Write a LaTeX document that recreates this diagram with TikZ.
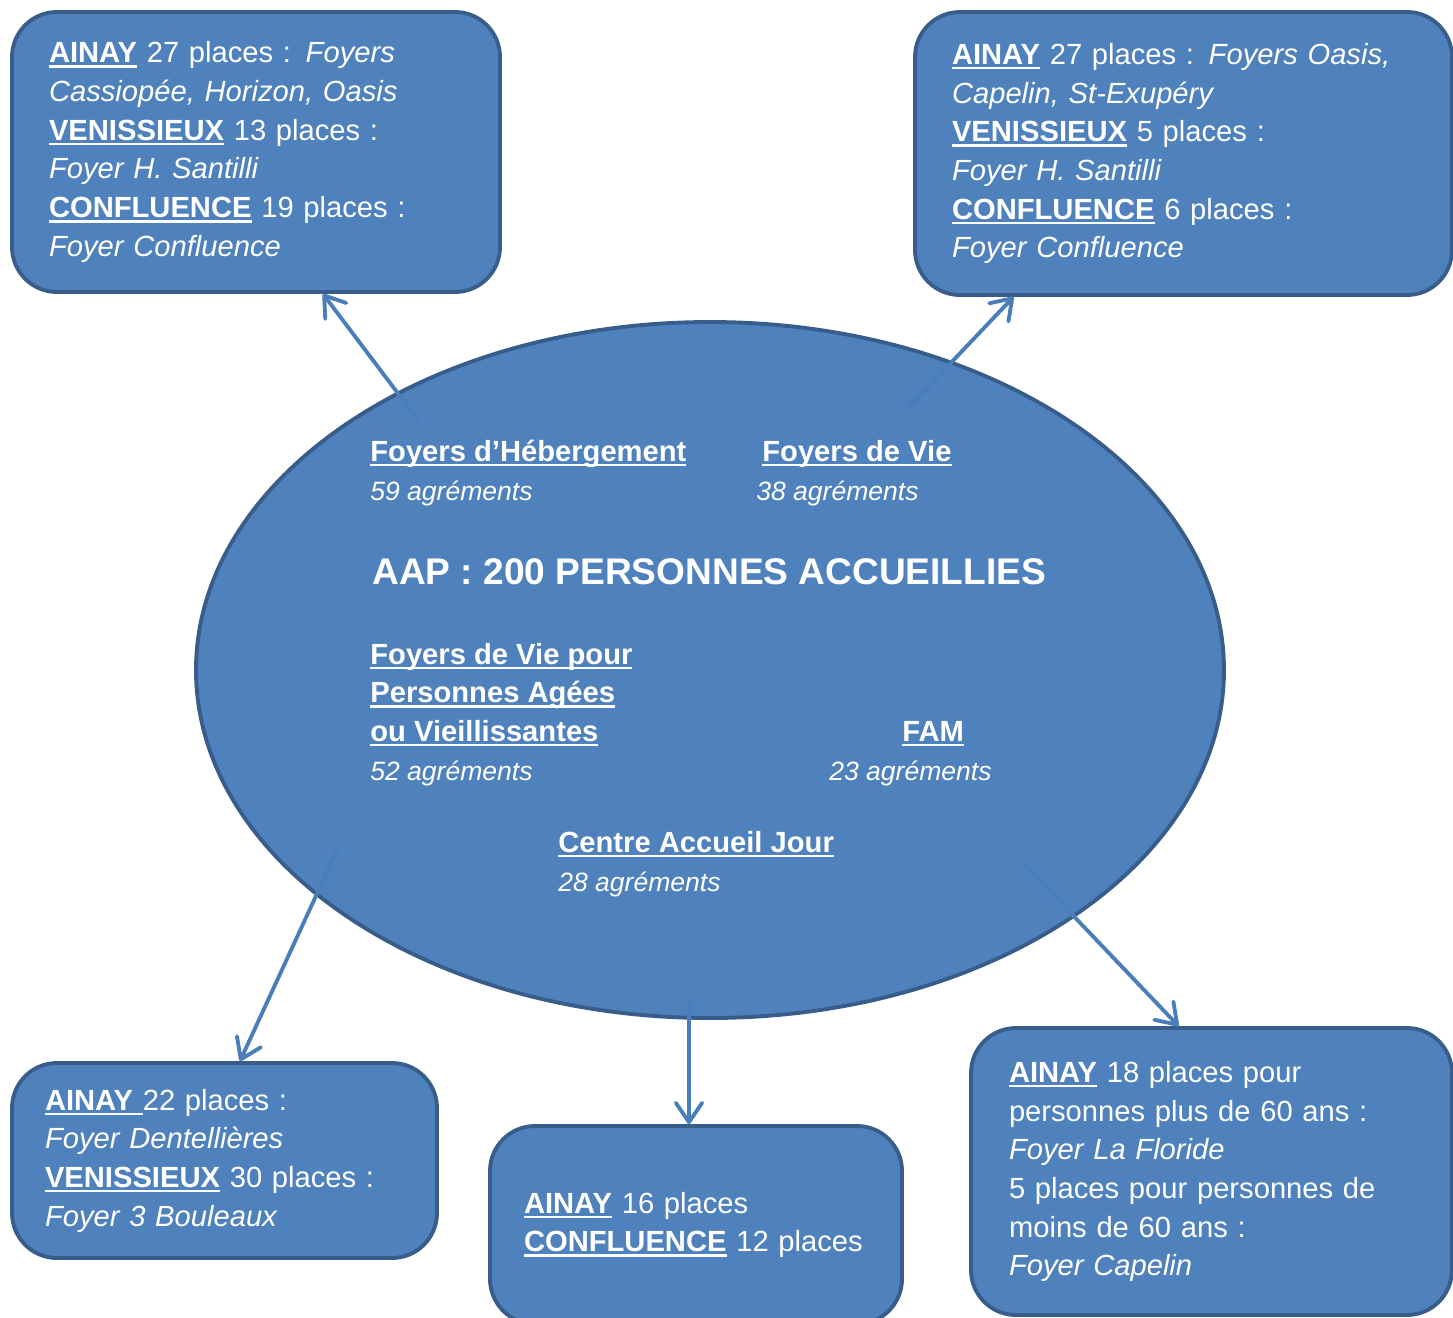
\documentclass[tikz,border=0pt]{standalone}
\usepackage{fontspec}
\setmainfont{Liberation Sans}
\usepackage{tikz}
\usetikzlibrary{arrows.meta,shapes.geometric}
\definecolor{bleu}{HTML}{4F81BD}
\definecolor{bleufonce}{HTML}{385D8A}
\definecolor{bleufleche}{HTML}{4A7EBB}
% souligne: bold word with a straight underline
\newsavebox{\soulbox}
\newcommand{\souligne}[1]{\leavevmode\sbox{\soulbox}{\textbf{#1}}\rlap{\rule[-0.1cm]{\wd\soulbox}{0.05cm}}\usebox{\soulbox}}
% agrement: smaller italic count in the ellipse
\newcommand{\agrement}[1]{{\fontsize{15.1pt}{22pt}\selectfont\itshape #1 agréments}}
\tikzset{
    font=\fontsize{16.6pt}{22pt}\selectfont,
    %Define style for boxes
    boite/.style={
           rectangle,
           rounded corners=0.9cm,
           draw=bleufonce, fill=bleu,
           line width=2.2pt,
           text=white,
           align=left,
           inner ysep=2pt},
    % Define style for the big ellipse
    cercle/.style={ellipse,fill=bleu,draw=bleufonce,line width=2.2pt,
           minimum width=20.56cm,minimum height=13.92cm},
    % Define style for texts in the ellipse
    texte/.style={text=white,align=left,anchor=base west,inner sep=0pt},
    % Define arrow style
    fleche/.style={
           -{Straight Barb[round,length=11pt,width=15pt]},
           draw=bleufleche,
           line width=2.2pt}
}

\begin{document}
\begin{tikzpicture}
  \useasboundingbox (0,0) rectangle (29.06,-26.34);
  \node[cercle] (aap) at (14.2,-13.4) {};
  \node[texte] (heb) at (7.40,-10.0) {\souligne{Foyers d’Hébergement}\\\agrement{59}};
  \node[texte] (vie) at (15.24,-10.0) {\souligne{Foyers de Vie}\\\hspace*{-0.12cm}\agrement{38}};
  \node[texte,font=\fontsize{21.1pt}{26pt}\selectfont\bfseries] (titre) at (7.44,-11.68) {AAP : 200 PERSONNES ACCUEILLIES};
  \node[texte] (fvpa) at (7.40,-15.6) {\souligne{Foyers de Vie pour}\\\souligne{Personnes Agées}\\\souligne{ou Vieillissantes}\\\agrement{52}};
  \node[texte] (fam) at (16.58,-15.6) {\hspace*{1.46cm}\souligne{FAM}\\\agrement{23}};
  \node[texte] (caj) at (11.16,-17.82) {\souligne{Centre Accueil Jour}\\\agrement{28}};

  \node[boite,text width=8.28cm,inner xsep=0.74cm,minimum height=5.6cm] (hg) at (5.12,-3.04) {%
    \souligne{AINAY} 27 places : \textit{Foyers}\\
    \textit{Cassiopée, Horizon, Oasis}\\
    \souligne{VENISSIEUX} 13 places :\\
    \textit{Foyer H. Santilli}\\
    \souligne{CONFLUENCE} 19 places :\\
    \textit{Foyer Confluence}};
  \node[boite,text width=9.26cm,inner xsep=0.74cm,minimum height=5.66cm] (hd) at (23.67,-3.07) {%
    \souligne{AINAY} 27 places : \textit{Foyers Oasis,}\\
    \textit{Capelin, St-Exupéry}\\
    \souligne{VENISSIEUX} 5 places :\\
    \textit{Foyer H. Santilli}\\
    \souligne{CONFLUENCE} 6 places :\\
    \textit{Foyer Confluence}};
  \node[boite,text width=7.18cm,inner xsep=0.66cm,minimum height=3.9cm] (bg) at (4.49,-23.21) {%
    \souligne{AINAY }22 places :\\
    \textit{Foyer Dentellières}\\
    \souligne{VENISSIEUX} 30 places :\\
    \textit{Foyer 3 Bouleaux}};
  \node[boite,text width=6.88cm,inner xsep=0.68cm,minimum height=3.96cm] (bm) at (13.92,-24.5) {%
    \souligne{AINAY} 16 places\\
    \souligne{CONFLUENCE} 12 places};
  \node[boite,text width=8.1cm,inner xsep=0.76cm,minimum height=5.74cm] (bd) at (24.23,-23.43) {%
    \souligne{AINAY} 18 places pour\\
    personnes plus de 60 ans :\\
    \textit{Foyer La Floride}\\
    5 places pour personnes de\\
    moins de 60 ans :\\
    \textit{Foyer Capelin}};

  % arrow starts inside the ellipse
  \coordinate (s1) at ([shift={(-5.84,5.0)}]aap.center);
  \coordinate (s2) at ([shift={(3.96,5.24)}]aap.center);
  \coordinate (s3) at ([shift={(-7.44,-3.56)}]aap.center);
  \coordinate (s4) at ([shift={(-0.42,-6.6)}]aap.center);
  \coordinate (s5) at ([shift={(6.3,-3.9)}]aap.center);
  \draw[fleche] (s1) -- ([xshift=1.34cm]hg.south);
  \draw[fleche] (s2) -- ([xshift=-3.4cm]hd.south);
  \draw[fleche] (s3) -- ([xshift=0.31cm]bg.north);
  \draw[fleche] (s4) -- ([xshift=-0.14cm]bm.north);
  \draw[fleche] (s5) -- ([xshift=-0.66cm]bd.north);
\end{tikzpicture}
\end{document}
